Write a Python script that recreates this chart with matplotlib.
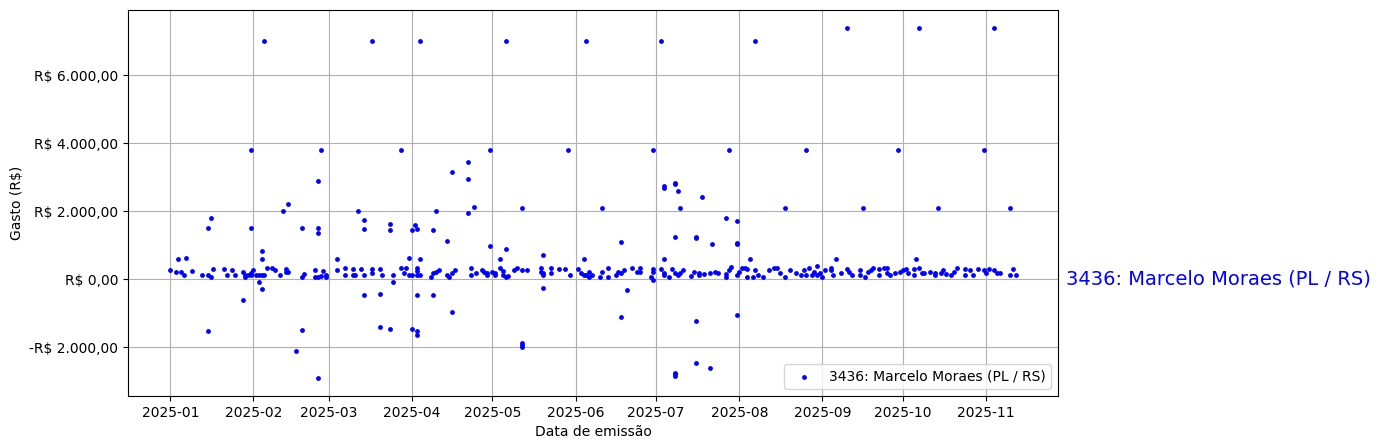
import matplotlib
matplotlib.use("Agg")
import matplotlib.pyplot as plt
import matplotlib.dates as mdates
from matplotlib.ticker import FuncFormatter
import pandas as pd

label = "3436: Marcelo Moraes (PL / RS)"
start_date = "2025-01-01"

# days since 2025-01-01
outlier_days = [35, 30, 56, 55, 44, 42, 15, 14, 30, 49, 55, 55, 70, 34, 34, 3, 6, 62, 33, 34, 27, 14, 49, 47, 55,
                75, 93, 125, 155, 86, 119, 148, 111, 105, 111, 113, 131, 99, 111, 72, 72, 82, 82, 91, 92, 90,
                98, 103, 119, 125, 123, 139, 154, 89, 93, 83, 72, 78, 92, 98, 139, 105, 78, 82, 90, 92, 92,
                131, 131, 131,
                183, 218, 180, 208, 237, 161, 229, 184, 184, 188, 188, 189, 190, 198, 207, 211, 168, 188, 196,
                196, 202, 211, 211, 184, 216, 170, 180, 168, 196, 211, 188, 188, 188, 196, 201,
                252, 279, 307, 271, 303, 258, 286, 313, 248, 278]
outlier_values = [7000, 3800, 3800, 2900, 2200, 2000, 1800, 1500, 1500, 1500, 1500, 1350, 2000, 820, 580, 580, 610,
                  580, -90, -280, -620, -1510, -1500, -2100, -2920,
                  7000, 7000, 7000, 7000, 3800, 3800, 3800, 3460, 3140, 2960, 2110, 2100, 2000, 1960, 1730, 1490,
                  1610, 1450, 1580, 1490, 1460, 1460, 1110, 980, 900, 580, 700, 580, 610, 580, -70, -480, -450,
                  -480, -480, -250, -980, -1420, -1480, -1480, -1520, -1650, -1880, -1950, -2000,
                  7000, 7000, 3800, 3800, 3800, 2100, 2100, 2730, 2670, 2840, 2790, 2600, 2100, 2430, 1810, 1700,
                  1080, 1230, 1230, 1200, 1020, 1050, 1020, 580, 580, -330, -30, -1100, -1220, -1040, -2750,
                  -2800, -2860, -2480, -2600,
                  7400, 7400, 7400, 3800, 3800, 2100, 2100, 2080, 580, 580]

band_days = [0, 2, 4, 5, 8, 12, 14, 15, 16, 20, 21, 23, 24, 27, 28, 28, 29, 30, 30, 31, 32, 33, 34, 35,
             36, 38, 39, 41, 43, 43, 44, 49, 50, 54, 54, 55, 56, 57, 58, 58, 62, 65, 65, 68, 68, 69, 71, 72, 75, 75,
             78, 79, 83, 86, 87, 88, 89, 90, 92, 92, 92, 93, 97, 98, 99, 100, 103, 104, 105, 106, 112, 112, 114, 116,
             117, 118, 118, 120, 121, 121, 123, 124, 124, 125, 126, 128, 129, 131, 133, 138, 138, 139, 139, 142, 142,
             145, 147, 149, 152, 153, 154, 155, 156, 156,
             157, 160, 161, 163, 163, 166, 167, 168, 169, 172, 174, 175, 175, 179, 180, 180, 183, 184, 184, 186, 187,
             188, 189, 190, 191, 194, 195, 197,
             197, 199, 201, 203, 204, 207, 207, 208, 209, 211, 212, 213, 214, 215, 215, 217, 218, 219, 221, 223, 225,
             226, 227, 229, 231, 233, 235, 236, 237,
             238, 239, 240, 241, 241, 242, 243, 244, 246, 246, 247, 250, 252, 253, 254, 257, 257, 259, 260, 261, 262,
             264, 264, 266, 267, 267, 268, 270, 272, 273, 274, 275, 277, 277,
             279, 280, 281, 283, 285, 285, 287, 288, 289, 291, 292, 293, 296, 296, 298, 299, 301, 303, 304, 305, 307,
             308, 309, 313, 314, 315]
band_values = [265, 206, 206, 108, 235, 137, 108, 59, 294, 294, 108, 265, 108, 206, 108, 78, 137, 196, 137, 265, 137,
               137, 137, 137,
               323, 323, 265, 118, 206, 294, 206, 78, 157, 59, 265, 59, 98, 235, 78, 127, 265, 323, 118, 294, 108, 118,
               294, 118, 294, 176,
               294, 118, 108, 323, 176, 323, 127, 137, 323, 137, 235, 118, 78, 196, 225, 274, 118, 78, 176, 274, 323,
               118, 176, 274,
               225, 176, 137, 206, 176, 137, 323, 235, 137, 78, 98, 265, 323, 265, 265, 225, 323, 176, 118, 323, 176,
               294, 294, 137, 294, 176, 118, 118, 78, 225,
               118, 78, 225, 323, 78, 118, 206, 176, 274, 323, 225, 323, 206, 78, 225, 294, 294, 118, 176, 78, 294,
               176, 118, 196, 274, 98, 225, 196,
               118, 157, 196, 225, 196, 78, 157, 274, 353, 118, 225, 323, 323, 294, 59, 78, 255, 118, 78, 255, 323,
               323, 196, 78, 274, 176, 118, 274, 118,
               323, 137, 225, 392, 118, 196, 78, 255, 255, 323, 118, 176, 294, 225, 118, 255, 137, 78, 225, 274, 323,
               118, 294, 323, 323, 196, 118, 176, 225, 274, 294, 176, 294, 137,
               323, 176, 176, 225, 196, 118, 196, 255, 157, 118, 225, 323, 294, 118, 274, 118, 294, 255, 196, 294, 255,
               196, 196, 137, 294, 137]

days = outlier_days + band_days
values = outlier_values + band_values
dates = pd.Timestamp(start_date) + pd.to_timedelta(days, unit="D")

fig = plt.figure(figsize=(13.81, 4.48), dpi=100)
ax = fig.add_axes([128 / 1381, 1 - 396 / 448, (1058 - 128) / 1381, (396 - 10) / 448])

ax.scatter(dates, values, s=6, color="blue", label=label)

def brl(v, pos):
    s = f"{abs(v):,.2f}".replace(",", "X").replace(".", ",").replace("X", ".")
    return ("-R$ " if v < 0 else "R$ ") + s

ax.yaxis.set_major_formatter(FuncFormatter(brl))
ax.xaxis.set_major_locator(mdates.MonthLocator())
ax.xaxis.set_major_formatter(mdates.DateFormatter("%Y-%m"))
ax.grid(True)
ax.set_axisbelow(True)
ax.set_xlabel("Data de emissão")
ax.set_ylabel("Gasto (R$)")
ax.legend(loc="lower right")

trans = matplotlib.transforms.blended_transform_factory(ax.transAxes, ax.transData)
ax.text(1.009, 0, label, transform=trans, color="blue", fontsize=14, va="center", ha="left")

fig.savefig("out.png", dpi=100)
